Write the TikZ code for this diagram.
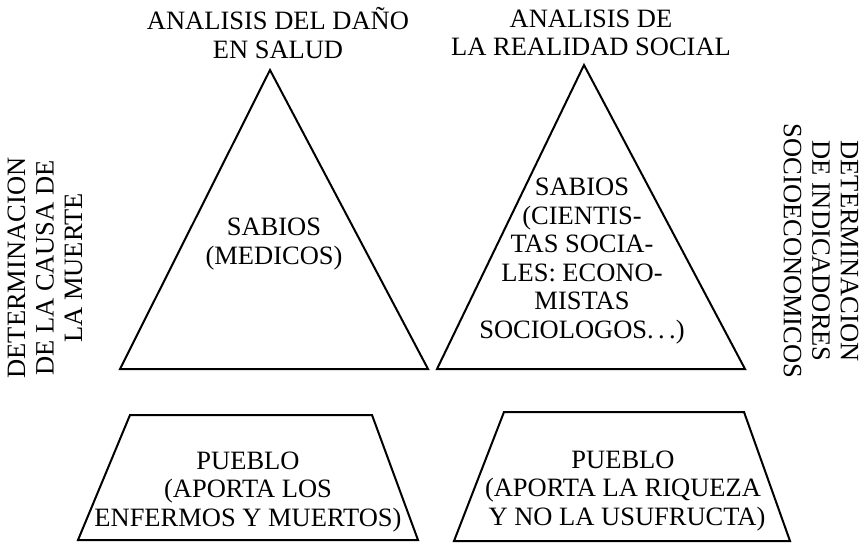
\documentclass[tikz,border=0pt]{standalone}
\usepackage{fontspec}
\setmainfont{Liberation Serif}
\usepackage{tikz}

\begin{document}
\begin{tikzpicture}[x = 1pt, y = -1pt, txt/.style = {align=center, inner sep=0pt, font=\fontsize{26.5}{28.5}\selectfont}, fig/.style = {draw, line width=2pt, line join=miter}]
	\useasboundingbox (0,0) rectangle (864,545);
	% triangulos de los sabios
	\coordinate (apice1) at (270,70);
	\coordinate (izq1) at (120,369);
	\coordinate (der1) at (428,369);
	\coordinate (apice2) at (584,65);
	\coordinate (izq2) at (437,369);
	\coordinate (der2) at (745,369);
	\draw[fig] (apice1) -- (der1) -- (izq1) -- cycle;
	\draw[fig] (apice2) -- (der2) -- (izq2) -- cycle;
	% trapecios del pueblo
	\draw[fig] (130,415) -- (372,415) -- (418,540) -- (78,540) -- cycle;
	\draw[fig] (504,412) -- (744,412) -- (790,541) -- (454,541) -- cycle;
	% textos
	\node[txt] (titulo1) at (278,33) {ANALISIS DEL DAÑO\\EN SALUD};
	\node[txt] (titulo2) at (591,33) {ANALISIS DE\\LA REALIDAD SOCIAL};
	\node[txt] (sabios1) at (274,244) {SABIOS\\(MEDICOS)};
	\node[txt] (sabios2) at (582,261) {SABIOS\\(CIENTIS-\\TAS SOCIA-\\LES: ECONO-\\MISTAS\\SOCIOLOGOS.\,.\,.)};
	\node[txt] (pueblo1) at (248,492) {PUEBLO\\(APORTA LOS\\ENFERMOS Y MUERTOS)};
	\node[txt] (pueblo2) at (623,491) {PUEBLO\\(APORTA LA RIQUEZA\\\hspace*{8pt}Y NO LA USUFRUCTA)};
	\node[txt, rotate=90] (causa) at (45,268) {DETERMINACION\\DE LA CAUSA DE\\LA MUERTE};
	\node[txt, rotate=-90] (indicadores) at (821,251) {DETERMINACION\\DE INDICADORES\\SOCIOECONOMICOS};
\end{tikzpicture}
\end{document}
